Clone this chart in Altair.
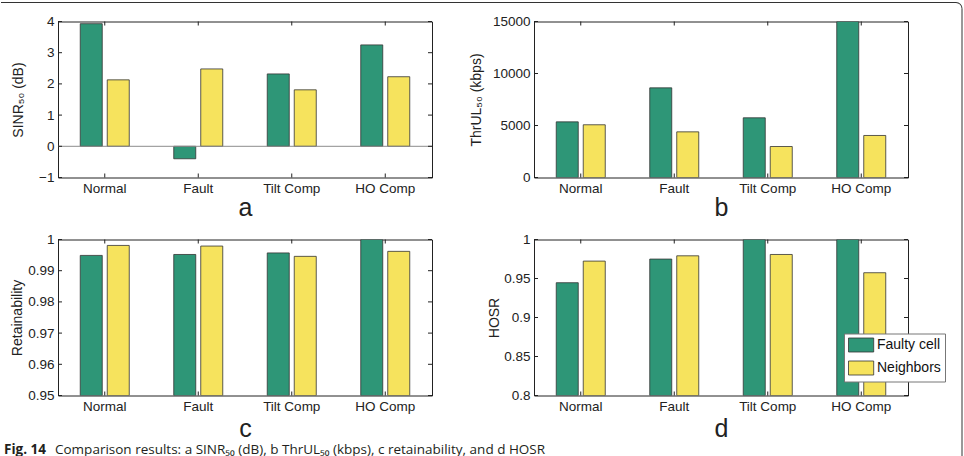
import altair as alt
import pandas as pd

# Categories and series
categories = ["Normal", "Fault", "Tilt Comp", "HO Comp"]
series = ["Faulty cell", "Neighbors"]
colors = ["#2e9677", "#f6e35d"]

# a: SINR50 (dB)
sinr_faulty = [3.93, -0.40, 2.32, 3.25]
sinr_neighbors = [2.13, 2.48, 1.81, 2.23]
sinr_ticks = [-1, 0, 1, 2, 3, 4]

# b: ThrUL50 (kbps)
thr_faulty = [5350, 8620, 5740, 15000]
thr_neighbors = [5070, 4390, 2980, 4040]
thr_ticks = [0, 5000, 10000, 15000]

# c: retainability
ret_faulty = [0.9949, 0.9952, 0.9957, 1.0]
ret_neighbors = [0.9981, 0.9979, 0.9946, 0.9962]
ret_ticks = [0.95, 0.96, 0.97, 0.98, 0.99, 1.0]

# d: HOSR
hosr_faulty = [0.9446, 0.9749, 1.0, 1.0]
hosr_neighbors = [0.9723, 0.9791, 0.9808, 0.9574]
hosr_ticks = [0.8, 0.85, 0.9, 0.95, 1.0]

caption_bold = "Fig. 14"
caption_rest = "Comparison results: a SINR₅₀ (dB), b ThrUL₅₀ (kbps), c retainability, and d HOSR"

W, H = 374, 156
FONT = "Liberation Sans"
INK = "#222222"

legend = alt.Legend(
    title=None, orient="none", legendX=786, legendY=312,
    symbolType="M-1,-1H2.6V1H-1Z", symbolSize=196,
    symbolStrokeColor="#333333", symbolStrokeWidth=0.8, symbolOpacity=1,
    labelFont=FONT, labelFontSize=14, labelColor="#111111", labelOffset=14,
    padding=4, rowPadding=4, strokeColor="#777777", fillColor="white",
)


def panel(faulty, neighbors, domain, ticks, base, ytitle, letter,
          ytitle_pad, letter_pad, fmt, baseline_rule=False):
    df = pd.DataFrame({
        "cat": categories * 2,
        "series": [series[0]] * len(categories) + [series[1]] * len(categories),
        "value": list(faulty) + list(neighbors),
    })
    x = alt.X("cat:N", sort=categories,
              scale=alt.Scale(domain=categories, paddingInner=0, paddingOuter=0),
              axis=alt.Axis(title=letter, labelAngle=0, titlePadding=letter_pad))
    y = alt.Y("value:Q", scale=alt.Scale(domain=domain, zero=False, nice=False),
              axis=alt.Axis(values=ticks, format=fmt, title=ytitle,
                            titlePadding=ytitle_pad, labelOverlap=False))
    bars = alt.Chart(df).mark_bar(stroke="#333333", strokeWidth=0.8, clip=True).encode(
        x=x,
        xOffset=alt.XOffset("series:N", sort=series,
                            scale=alt.Scale(domain=series, paddingInner=0.185,
                                            paddingOuter=0.824)),
        y=y,
        y2=alt.datum(base),
        color=alt.Color("series:N", sort=series,
                        scale=alt.Scale(domain=series, range=colors), legend=legend),
    )
    layers = [bars]
    if baseline_rule:
        # grey bar baseline across the whole axes
        layers.append(alt.Chart(pd.DataFrame({"value": [base]})).mark_rule(
            color="#8c8c8c", strokeWidth=1).encode(y=y))
    tdf = pd.DataFrame({"value": ticks})
    cdf = pd.DataFrame({"cat": categories})
    tick_style = dict(color=INK, strokeWidth=1)
    layers += [
        alt.Chart(tdf).mark_rule(**tick_style).encode(
            y=y, x=alt.value(0), x2=alt.value(4)),
        alt.Chart(tdf).mark_rule(**tick_style).encode(
            y=y, x=alt.value(W - 4), x2=alt.value(W)),
        alt.Chart(cdf).mark_rule(**tick_style).encode(
            x=x, y=alt.value(H), y2=alt.value(H - 4)),
        alt.Chart(cdf).mark_rule(**tick_style).encode(
            x=x, y=alt.value(0), y2=alt.value(4)),
    ]
    return layers


one = pd.DataFrame({"k": [0]})

# a
layers_a = panel(sinr_faulty, sinr_neighbors, [-1, 4], sinr_ticks, 0,
                 "SINR₅₀ (dB)", "a", 13, 0, "d", baseline_rule=True)
chart_a = alt.layer(*layers_a).properties(width=W, height=H)

# b, with the page frame edge along the top and right
layers_b = panel(thr_faulty, thr_neighbors, [0, 15000], thr_ticks, 0,
                 "ThrUL₅₀ (kbps)", "b", 8.5, 0, "d")
frame_top = alt.Chart(one).mark_rule(color="#333333", strokeWidth=1).encode(
    x=alt.value(-533), x2=alt.value(422), y=alt.value(-19))
frame_corner = alt.Chart(one).mark_arc(
    theta=0, theta2=1.5708, radius=6.5, radius2=5.5, color="#333333").encode(
    x=alt.value(422), y=alt.value(-13))
frame_right = alt.Chart(one).mark_rule(color="#333333", strokeWidth=1).encode(
    x=alt.value(428), y=alt.value(-13), y2=alt.value(435))
chart_b = alt.layer(*layers_b, frame_top, frame_corner, frame_right).properties(
    width=W, height=H)

# c, with the figure caption underneath
layers_c = panel(ret_faulty, ret_neighbors, [0.95, 1.0], ret_ticks, 0.95,
                 "Retainability", "c", 3.7, 3.5, "~g")
cap1 = alt.Chart(pd.DataFrame({"t": [caption_bold]})).mark_text(
    align="left", baseline="alphabetic", font="Open Sans", fontSize=13.5,
    fontWeight="bold", color="#231f20").encode(
    text="t:N", x=alt.value(-54), y=alt.value(214))
cap2 = alt.Chart(pd.DataFrame({"t": [caption_rest]})).mark_text(
    align="left", baseline="alphabetic", font="Open Sans", fontSize=13.5,
    color="#231f20").encode(
    text="t:N", x=alt.value(-3), y=alt.value(214))
chart_c = alt.layer(*layers_c, cap1, cap2).properties(width=W, height=H)

# d
layers_d = panel(hosr_faulty, hosr_neighbors, [0.8, 1.0], hosr_ticks, 0.8,
                 "HOSR", "d", 2.7, 3.5, "~g")
chart_d = alt.layer(*layers_d).properties(width=W, height=H)

chart = alt.concat(
    chart_a, chart_b, chart_c, chart_d,
    columns=2, spacing=alt.RowColnumber(row=62, column=102), bounds="flush",
).properties(
    padding={"left": 0, "top": 1.5, "right": 0, "bottom": 0},
    background="white",
).configure_axis(
    domain=False, ticks=False, grid=False,
    labelFont=FONT, labelFontSize=13.5, labelColor=INK, labelPadding=4,
    titleFont=FONT, titleFontWeight="normal", titleColor=INK,
).configure_axisY(
    titleFontSize=14,
).configure_axisX(
    titleFontSize=25,
).configure_view(
    stroke=INK, strokeWidth=1,
)

chart.save("out.html", embed_options={"renderer": "svg", "actions": False})
